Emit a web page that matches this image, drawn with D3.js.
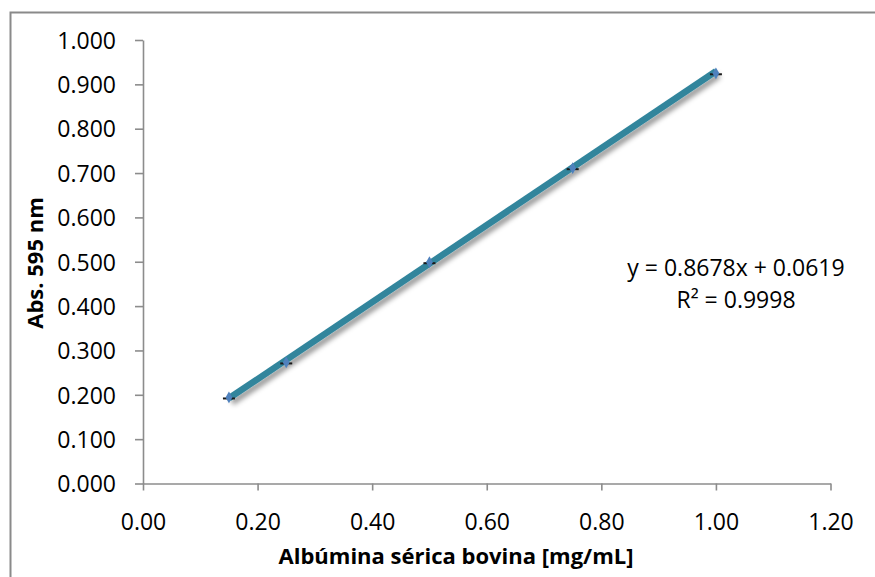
<!DOCTYPE html>
<html><head><meta charset="utf-8">
<script src="https://cdn.jsdelivr.net/npm/d3@7"></script>
<style>body{margin:0;background:#fff}svg{display:block}text{font-family:"Open Sans",sans-serif}</style>
</head><body>
<script>
const xValues=[0.15,0.25,0.50,0.75,1.00];
const yValues=[0.194,0.273,0.499,0.711,0.925];
const xTicks=[0,0.2,0.4,0.6,0.8,1.0,1.2];
const yTicks=[0,0.1,0.2,0.3,0.4,0.5,0.6,0.7,0.8,0.9,1.0];
const slope=0.8678, intercept=0.0619;
const eqLines=["y = 0.8678x + 0.0619","R² = 0.9998"];
const xTitle="Albúmina sérica bovina [mg/mL]", yTitle="Abs. 595 nm";

const W=875,H=577;
const svg=d3.select("body").append("svg").attr("width",W).attr("height",H);
const defs=svg.append("defs");
const f=defs.append("filter").attr("id","sh").attr("x","-10%").attr("y","-10%").attr("width","130%").attr("height","130%");
f.append("feDropShadow").attr("dx",3).attr("dy",4).attr("stdDeviation",2.5).attr("flood-color","#000").attr("flood-opacity",0.4);

svg.append("rect").attr("x",10.5).attr("y",12.5).attr("width",W+20).attr("height",H+20).attr("fill","none").attr("stroke","#8a8a8a").attr("stroke-width",2);

const x=d3.scaleLinear().domain([0,1.2]).range([143,830.5]);
const y=d3.scaleLinear().domain([0,1]).range([483.5,40]);

const ax=svg.append("g").attr("transform",`translate(0,${y(0)})`).call(d3.axisBottom(x).tickValues(xTicks).tickFormat(d3.format(".2f")).tickSize(7).tickSizeOuter(0));
const ay=svg.append("g").attr("transform",`translate(${x(0)},0)`).call(d3.axisLeft(y).tickValues(yTicks).tickFormat(d3.format(".3f")).tickSize(8).tickSizeOuter(0));
[ax,ay].forEach(a=>{a.selectAll("path,line").attr("stroke","#8c8c8c").attr("stroke-width",1.6);
 a.selectAll("text").attr("fill","#000").style("font-size","23px").style("font-family","'Open Sans',sans-serif");});
ax.selectAll("text").attr("y",0).attr("dy",null).attr("transform","translate(0,46)");
ay.selectAll("text").attr("x",-27).attr("dy","0.36em");

// trendline
const x0=d3.min(xValues), x1=d3.max(xValues);
svg.append("line").attr("x1",x(x0)).attr("y1",y(slope*x0+intercept)).attr("x2",x(x1)).attr("y2",y(slope*x1+intercept))
 .attr("stroke","#31859c").attr("stroke-width",6.5).attr("filter","url(#sh)");

// markers
const pts=svg.append("g").selectAll("g").data(xValues.map((v,i)=>[v,yValues[i]])).join("g")
 .attr("transform",d=>`translate(${x(d[0])},${y(d[1])})`);
pts.append("line").attr("x1",-6).attr("x2",6).attr("y1",1).attr("y2",1).attr("stroke","#1a1a1a").attr("stroke-width",2);
pts.append("path").attr("d",d3.symbol().type(d3.symbolDiamond).size(40)).attr("fill","#4f81bd");

// equation
const eq=svg.append("text").attr("text-anchor","middle").style("font-size","23px");
eq.append("tspan").attr("x",736).attr("y",276).text(eqLines[0]);
eq.append("tspan").attr("x",736).attr("y",308).text(eqLines[1]);

svg.append("text").attr("x",456).attr("y",564).attr("text-anchor","middle").style("font-size","22px").style("font-weight","bold").text(xTitle);
svg.append("text").attr("transform","translate(43,263) rotate(-90)").attr("text-anchor","middle").style("font-size","22px").style("font-weight","bold").text(yTitle);
</script>
</body></html>
